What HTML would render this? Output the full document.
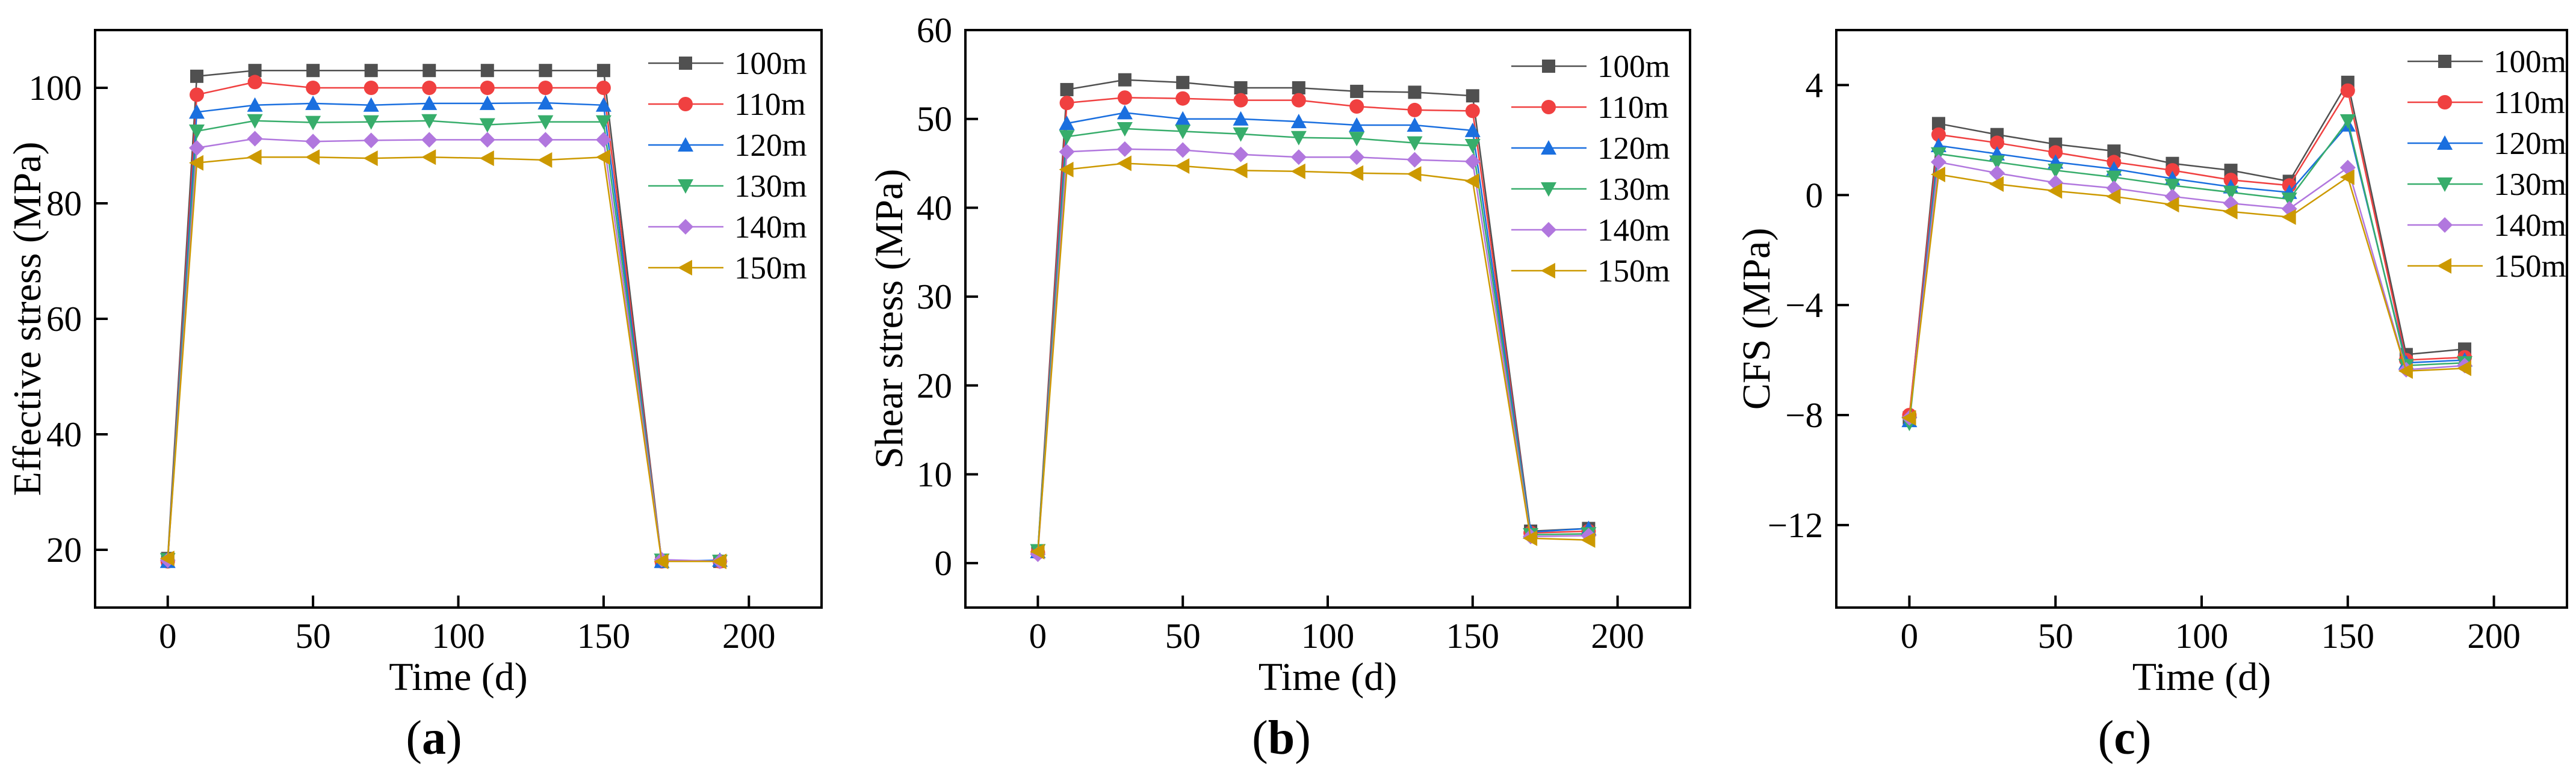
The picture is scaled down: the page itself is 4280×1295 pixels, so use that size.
<!DOCTYPE html>
<html><head><meta charset="utf-8"><style>
html,body{margin:0;padding:0;background:#fff;}
svg{display:block;font-family:"Liberation Serif","Times New Roman",serif;}
text{font-family:"Liberation Serif","Times New Roman",serif;fill:#000;}
</style></head><body>
<svg id="fig" width="4280" height="1295" viewBox="0 0 4280 1295" xmlns="http://www.w3.org/2000/svg" font-family="Liberation Serif, serif"></svg>
<script>
const days = [0,10,30,50,70,90,110,130,150,170,190];
const seriesNames = ["100m","110m","120m","130m","140m","150m"];
const xTicks = [0,50,100,150,200];
// Panel a: effective stress
const effYTicks = [20,40,60,80,100];
const eff100 = [18.5,102,103,103,103,103,103,103,103,18,18];
const eff110 = [18,98.8,101,100,100,100,100,100,100,18,18];
const eff120 = [18,95.8,97,97.3,97,97.3,97.3,97.4,97,18,18.2];
const eff130 = [18.3,92.5,94.3,94,94.1,94.3,93.6,94.1,94.1,18.2,18];
const eff140 = [18.2,89.6,91.2,90.7,90.9,91,91,91,91,18.3,18];
const eff150 = [18.5,87,88,88,87.8,88,87.8,87.5,88,18,18];
// Panel b: shear stress
const shYTicks = [0,10,20,30,40,50,60];
const sh100 = [1.3,53.3,54.4,54.1,53.5,53.5,53.1,53,52.6,3.6,3.9];
const sh110 = [1.2,51.8,52.4,52.3,52.1,52.1,51.4,51,50.9,3.4,3.6];
const sh120 = [1.3,49.5,50.7,50,50,49.7,49.3,49.3,48.7,3.5,3.9];
const sh130 = [1.4,48,48.9,48.6,48.3,47.9,47.8,47.3,47,3.2,3.3];
const sh140 = [1,46.3,46.6,46.5,46,45.7,45.7,45.4,45.2,3,3.1];
const sh150 = [1.3,44.3,45,44.7,44.2,44.1,43.9,43.8,43,2.8,2.6];
// Panel c: CFS
const cfsYTicks = [-12,-8,-4,0,4];
const cfsYLabels = ["\u221212","\u22128","\u22124","0","4"];
const cfs100 = [-8.1,2.6,2.2,1.85,1.6,1.15,0.9,0.5,4.1,-5.8,-5.6];
const cfs110 = [-8,2.2,1.9,1.55,1.2,0.9,0.55,0.35,3.8,-6,-5.9];
const cfs120 = [-8.2,1.8,1.5,1.2,0.95,0.6,0.3,0.1,2.55,-6.1,-6];
const cfs130 = [-8.3,1.5,1.2,0.9,0.65,0.35,0.1,-0.15,2.7,-6.2,-6.1];
const cfs140 = [-8.1,1.2,0.8,0.45,0.25,-0.05,-0.3,-0.5,1,-6.35,-6.2];
const cfs150 = [-8.1,0.75,0.4,0.15,-0.05,-0.35,-0.6,-0.8,0.65,-6.4,-6.3];

const colors = ["#505050","#f04040","#1a6fdf","#37ad6b","#b177de","#cc9900"];
const shapes = ["square","circle","up","down","diamond","left"];
const NS = "http://www.w3.org/2000/svg";
const FONT = '"Liberation Serif", "Times New Roman", serif';
const svg = document.getElementById("fig");

function mk(tag, attrs, parent){
  const e = document.createElementNS(NS, tag);
  for (const k in attrs) e.setAttribute(k, attrs[k]);
  if (tag === "text") e.setAttribute("font-family", FONT);
  parent.appendChild(e);
  return e;
}
function marker(g, shape, cx, cy, color){
  const r = 11;
  let e;
  if (shape==="square") e = mk("rect",{x:cx-r,y:cy-r,width:2*r,height:2*r,fill:color},g);
  else if (shape==="circle") e = mk("circle",{cx:cx,cy:cy,r:r+1,fill:color},g);
  else if (shape==="up") e = mk("polygon",{points:`${cx},${cy-r-2} ${cx+r+2},${cy+r} ${cx-r-2},${cy+r}`,fill:color},g);
  else if (shape==="down") e = mk("polygon",{points:`${cx},${cy+r+2} ${cx+r+2},${cy-r} ${cx-r-2},${cy-r}`,fill:color},g);
  else if (shape==="diamond") e = mk("polygon",{points:`${cx},${cy-r-2} ${cx+r+2},${cy} ${cx},${cy+r+2} ${cx-r-2},${cy}`,fill:color},g);
  else e = mk("polygon",{points:`${cx-r-2},${cy} ${cx+r},${cy-r-2} ${cx+r},${cy+r+2}`,fill:color},g);
  
  
  return e;
}

function panel(cfg){
  const g = mk("g",{},svg);
  
  
  const L=cfg.left, R=cfg.right, T=50, B=1010;
  const xs = v => L + (v - (-25)) / 250 * (R - L);
  const ys = v => B - (v - cfg.ymin) / (cfg.ymax - cfg.ymin) * (B - T);
  cfg.series.forEach((vals, si) => {
    const sg = mk("g",{},g);
    
    
    const pts = days.map((d,i)=>xs(d)+","+ys(vals[i])).join(" ");
    const pl = mk("polyline",{points:pts,fill:"none",stroke:colors[si],"stroke-width":2.5},sg);
    
    
    days.forEach((d,i)=>marker(sg, shapes[si], xs(d), ys(vals[i]), colors[si]));
  });
  const fr = mk("rect",{x:L,y:T,width:R-L,height:B-T,fill:"none",stroke:"#000","stroke-width":4},g);
  
  
  xTicks.forEach(t=>{
    const x = xs(t);
    const tl = mk("line",{x1:x,y1:B,x2:x,y2:B-20,stroke:"#000","stroke-width":4},g);
    
    
    const tx = mk("text",{x:x,y:1077,"text-anchor":"middle","font-size":59},g);
    tx.textContent = t;
    
    
  });
  cfg.yTicks.forEach((t,i)=>{
    const y = ys(t);
    const tl = mk("line",{x1:L,y1:y,x2:L+21,y2:y,stroke:"#000","stroke-width":4},g);
    
    
    const tx = mk("text",{x:L-22,y:y+20,"text-anchor":"end","font-size":59},g);
    tx.textContent = cfg.yLabels ? cfg.yLabels[i] : t;
    
    
  });
  const xt = mk("text",{x:(L+R)/2,y:1147,"text-anchor":"middle","font-size":66},g);
  xt.textContent = "Time (d)";
  
  
  const yt = mk("text",{x:0,y:0,"text-anchor":"middle","font-size":66,transform:`translate(${cfg.ytx},${(T+B)/2}) rotate(-90)`},g);
  yt.textContent = cfg.ytitle;
  
  
  const pl = mk("text",{x:cfg.labelX,y:1253,"text-anchor":"middle","font-size":80},g);
  pl.innerHTML = '(<tspan font-weight="bold">'+cfg.letter+'</tspan>)';
  
  
  const lg = mk("g",{},g);
  
  
  seriesNames.forEach((n,si)=>{
    const y = cfg.legY + si*68;
    const le = mk("g",{},lg);
    
    
    mk("line",{x1:cfg.legX,y1:y,x2:cfg.legX+125,y2:y,stroke:colors[si],"stroke-width":2.5},le);
    marker(le, shapes[si], cfg.legX+62, y, colors[si]);
    const t = mk("text",{x:cfg.legX+143,y:y+18,"font-size":53},le);
    t.textContent = n;
  });
}

panel({name:"panel-a-effective-stress",left:158,right:1365,ymin:10,ymax:110,yTicks:effYTicks,
  series:[eff100,eff110,eff120,eff130,eff140,eff150],ytitle:"Effective stress (MPa)",ytx:67,
  letter:"a",labelX:721,legX:1077,legY:105});
panel({name:"panel-b-shear-stress",left:1604,right:2808,ymin:-5,ymax:60,yTicks:shYTicks,
  series:[sh100,sh110,sh120,sh130,sh140,sh150],ytitle:"Shear stress (MPa)",ytx:1499,
  letter:"b",labelX:2129,legX:2511,legY:110});
panel({name:"panel-c-cfs",left:3051,right:4265,ymin:-15,ymax:6,yTicks:cfsYTicks,yLabels:cfsYLabels,
  series:[cfs100,cfs110,cfs120,cfs130,cfs140,cfs150],ytitle:"CFS (MPa)",ytx:2940,
  letter:"c",labelX:3530,legX:4000,legY:102});
</script>
</body></html>
